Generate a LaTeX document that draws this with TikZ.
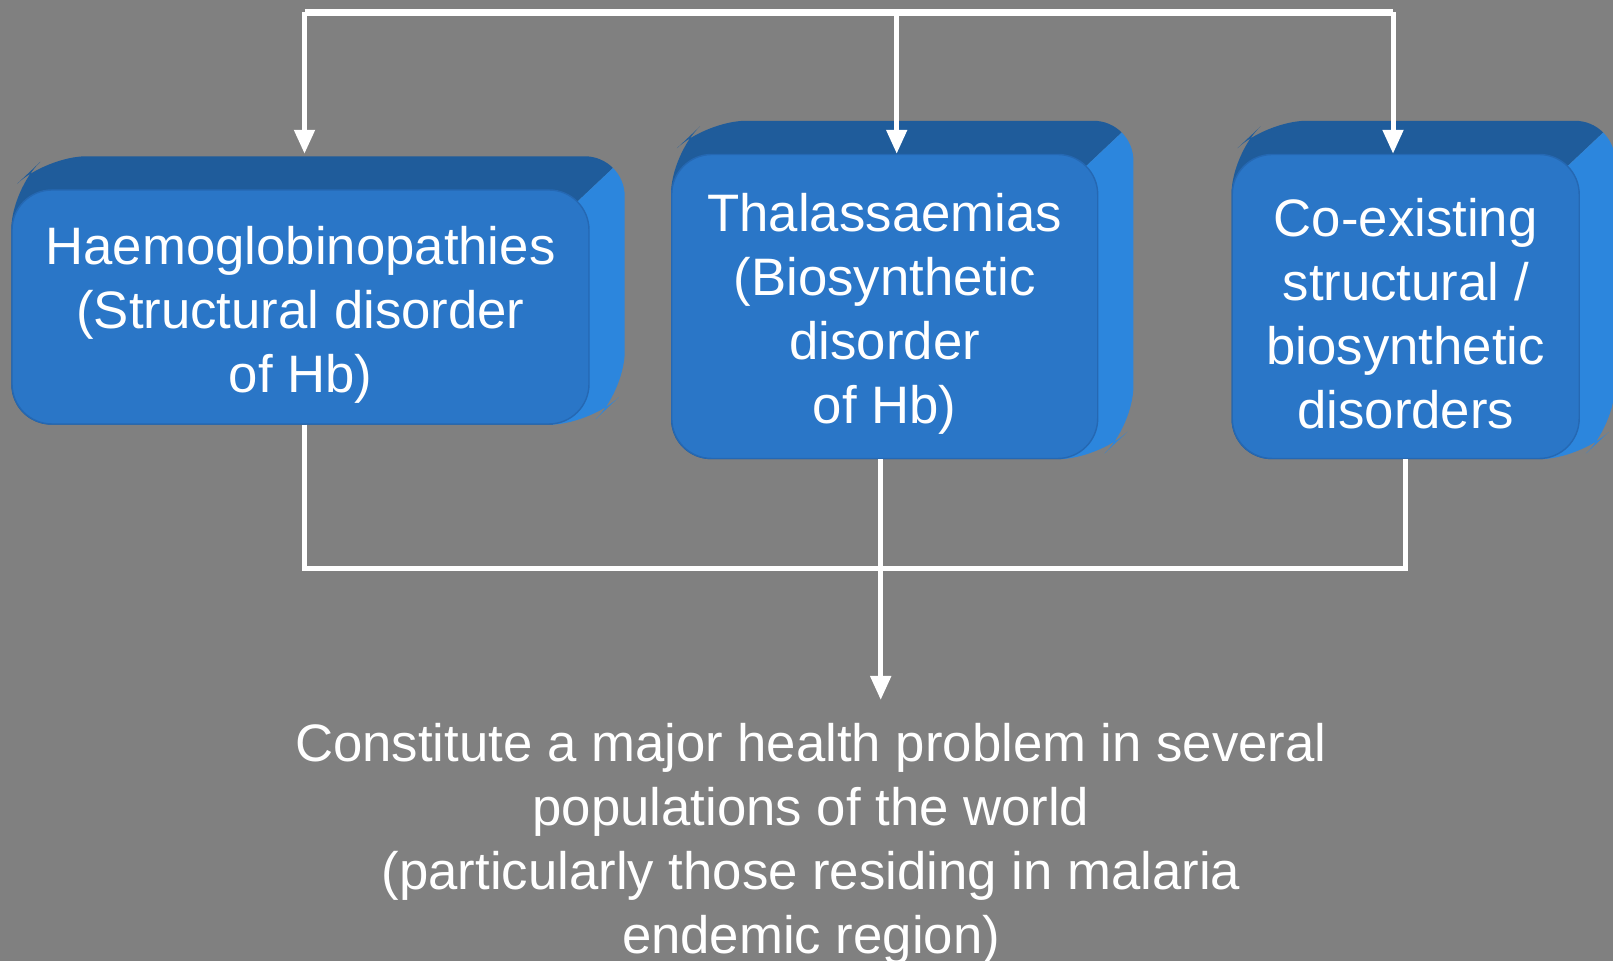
\documentclass[tikz,border=0pt]{standalone}
\usepackage{fontspec}
\setmainfont{Liberation Sans}
\usetikzlibrary{arrows.meta}

\pgfdeclarelayer{background}
\pgfsetlayers{background,main}

\definecolor{slidegray}{HTML}{808080}
\definecolor{facefront}{HTML}{2A76C7}
\definecolor{facetop}{HTML}{1F5C9B}
\definecolor{faceside}{HTML}{2C86DD}
\definecolor{faceedge}{HTML}{2568B3}

\tikzset{
    box/.style={rounded corners=4mm, fill=facefront, draw=faceedge, line width=0.4pt, inner sep=0pt},
    boxtext/.style={text=white, align=center, inner sep=0pt, yshift=-0.75mm,
        font=\fontsize{15}{18.2}\selectfont},
    note/.style={text=white, align=center, inner sep=2.3mm, font=\fontsize{15}{18.2}\selectfont},
    joinline/.style={draw=white, line width=0.5mm},
    downarrow/.style={joinline, -{Triangle[length=2.4mm,width=2mm]}}
}

% solid look behind a box node
\newcommand{\depthshape}[1]{(#1.south west) -- (#1.south east)
        -- ([shift={(35,33)}]#1.south east) -- ([shift={(35,33)}]#1.north east)
        -- ([shift={(35,33)}]#1.north west) -- (#1.north west) -- cycle}
\newcommand{\drawdepth}[1]{%
    \begin{scope}
        \clip ([shift={(-40,-30)}]#1.south east) -- ([shift={(-12,-12)}]#1.north east) -- ++(70,66)
            -- ([shift={(-100,100)}]#1.north west) -- ([shift={(-100,-30)}]#1.south west) -- cycle;
        \fill[facetop, rounded corners=4mm] \depthshape{#1};
    \end{scope}
    \begin{scope}
        \clip ([shift={(-40,-30)}]#1.south east) -- ([shift={(-12,-12)}]#1.north east) -- ++(70,66)
            -- ++(150,0) -- ([shift={(150,-30)}]#1.south east) -- cycle;
        \fill[faceside, rounded corners=4mm] \depthshape{#1};
    \end{scope}}

\begin{document}
\begin{tikzpicture}[x=0.1mm, y=0.1mm]
    \useasboundingbox (0,0) rectangle (1613,961);
    \begin{pgfonlayer}{background}
        \fill[slidegray] (0,0) rectangle (1613,961);
    \end{pgfonlayer}

    \node[box, minimum width=57.7mm, minimum height=23.4mm,
        label={[boxtext]center:{Haemoglobinopathies\\(Structural disorder\\of Hb)}}] (haemo) at (300.5,654) {};
    \node[box, minimum width=42.6mm, minimum height=30.4mm,
        label={[boxtext]center:{Thalassaemias\\(Biosynthetic\\disorder\\of Hb)}}] (thal) at (884.7,654.5) {};
    \node[box, minimum width=34.7mm, minimum height=30.4mm,
        label={[boxtext]center:{Co-existing\\structural /\\biosynthetic\\disorders}}] (co) at (1405.7,654.5) {};

    \node[note, anchor=north] (note) at (811,261) {Constitute a major health problem in several\\populations of the world\\(particularly those residing in malaria\\endemic region)};

    \begin{pgfonlayer}{background}
        \drawdepth{haemo}
        \drawdepth{thal}
        \drawdepth{co}
    \end{pgfonlayer}

    \coordinate (top) at (0,948.7);
    \coordinate (bar) at (0,392);

    \draw[joinline, line width=0.65mm] ([xshift=0.4mm]haemo.north |- top) -- ([xshift=-1.27mm]co.north |- top);
    \draw[downarrow] ([xshift=0.4mm]haemo.north |- top) -- ([xshift=0.4mm]haemo.north |- thal.north);
    \draw[downarrow] ([xshift=1.2mm]thal.north |- top) -- ([xshift=1.2mm]thal.north);
    \draw[downarrow] ([xshift=-1.27mm]co.north |- top) -- ([xshift=-1.27mm]co.north);

    \draw[joinline] ([xshift=0.4mm]haemo.south) |- ([xshift=-0.4mm]thal.south |- bar) -| (co.south);
    \draw[joinline] ([xshift=-0.4mm]thal.south) -- ([xshift=-0.4mm]thal.south |- bar);
    \draw[downarrow] ([xshift=-0.4mm]thal.south |- bar) -- ([xshift=-0.4mm]thal.south |- note.north);
\end{tikzpicture}
\end{document}
